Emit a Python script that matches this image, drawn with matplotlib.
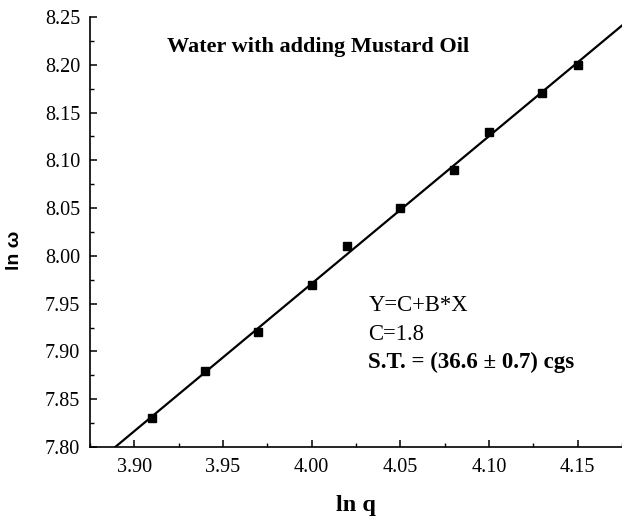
import numpy as np
import matplotlib
matplotlib.use('Agg')
import matplotlib.pyplot as plt
from matplotlib.ticker import MultipleLocator

# data
ln_q = [3.91, 3.94, 3.97, 4.00, 4.02, 4.05, 4.08, 4.10, 4.13, 4.15]
ln_w = [7.83, 7.88, 7.92, 7.97, 8.01, 8.05, 8.09, 8.13, 8.17, 8.20]
fit_x = [3.875, 4.175]
title_text = 'Water with adding Mustard Oil'
fit_lines = ['Y=C+B*X', 'C=1.8']
st_text = 'S.T. = (36.6 ± 0.7) cgs'

serif = 'Liberation Serif'
sans = 'Liberation Sans'

fig = plt.figure(figsize=(6.22, 5.17), dpi=100)
ax = fig.add_axes([0.1447, 0.1354, 0.8553, 0.8317])

# linear fit through the points
B, C = np.polyfit(ln_q, ln_w, 1)
fx = np.array(fit_x)
ax.plot(fx, C + B * fx, color='black', lw=1.6, zorder=2)
ax.plot(ln_q, ln_w, 's', color='black', ms=6, zorder=3)

ax.set_xlim(3.875, 4.175)
ax.set_ylim(7.80, 8.25)
ax.xaxis.set_major_locator(MultipleLocator(0.05))
ax.xaxis.set_minor_locator(MultipleLocator(0.025))
ax.yaxis.set_major_locator(MultipleLocator(0.05))
ax.yaxis.set_minor_locator(MultipleLocator(0.025))
ax.xaxis.set_major_formatter(plt.FormatStrFormatter('%.2f'))
ax.yaxis.set_major_formatter(plt.FormatStrFormatter('%.2f'))

for s in ['top', 'right']:
    ax.spines[s].set_visible(False)
for s in ['left', 'bottom']:
    ax.spines[s].set_linewidth(1.2)
ax.tick_params(which='major', direction='in', length=5, width=1.1,
               labelsize=14.5, labelfontfamily=serif)
ax.tick_params(axis='x', which='major', pad=8)
ax.tick_params(axis='y', which='major', pad=7)
ax.tick_params(which='minor', direction='in', length=3, width=1.0)

ax.set_xlabel('ln q', fontfamily=serif, fontweight='bold', fontsize=17.5)
ax.xaxis.label.set_va('center')
ax.xaxis.set_label_coords(0.5, -0.137)
ax.set_ylabel('ln ω', fontfamily=sans, fontweight='bold', fontsize=14)
ax.yaxis.label.set_va('center')
ax.yaxis.set_label_coords(-0.141, 0.458)

ax.text(4.0037, 8.2186, title_text, ha='center', va='center',
        fontfamily=serif, fontweight='bold', fontsize=16)
ax.text(4.032, 7.9476, fit_lines[0], fontfamily=serif, fontsize=16.3, va='center')
ax.text(4.032, 7.918, fit_lines[1], fontfamily=serif, fontsize=16.3, va='center')
ax.text(4.032, 7.889, st_text, fontfamily=serif, fontweight='bold', fontsize=16.5, va='center')

fig.savefig('out.png', dpi=100)
